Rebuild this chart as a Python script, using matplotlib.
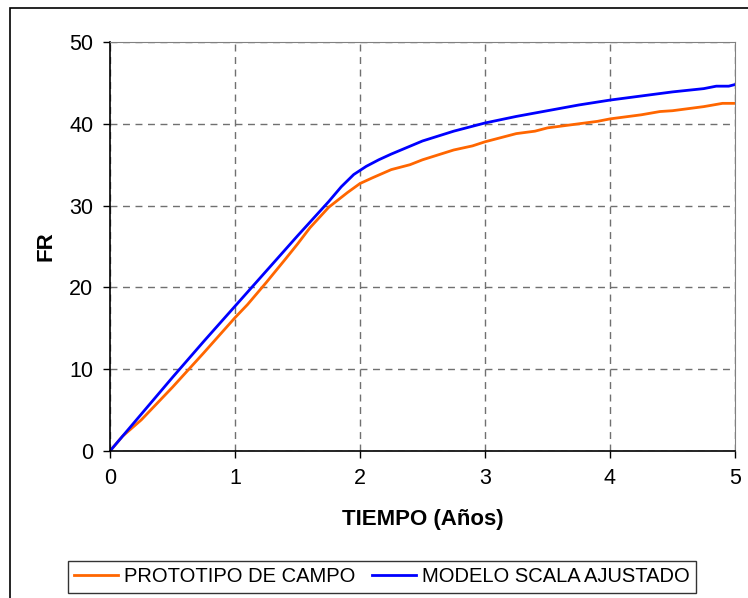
import matplotlib
matplotlib.use('Agg')
import matplotlib.pyplot as plt
from matplotlib.patches import Rectangle

plt.rcParams['font.family'] = ['Liberation Sans', 'DejaVu Sans']

# prototipo de campo
t_campo = [0, 0.1, 0.25, 0.4, 0.5, 0.75, 1.0, 1.1, 1.25, 1.4, 1.5, 1.6, 1.75, 1.9, 2.0, 2.1, 2.25, 2.4, 2.5,
           2.75, 2.9, 3.0, 3.1, 3.25, 3.4, 3.5, 3.75, 3.9, 4.0, 4.25, 4.4, 4.5, 4.75, 4.9, 5.0]
fr_campo = [0, 1.8, 3.8, 6.2, 7.8, 12.0, 16.3, 17.9, 20.6, 23.4, 25.3, 27.3, 29.8, 31.6, 32.7, 33.4, 34.4, 35.0, 35.6,
            36.8, 37.3, 37.8, 38.2, 38.8, 39.1, 39.5, 40.0, 40.3, 40.6, 41.1, 41.5, 41.6, 42.1, 42.5, 42.5]

# modelo scala ajustado
t_modelo = [0, 0.25, 0.5, 0.75, 1.0, 1.25, 1.5, 1.75, 1.85, 1.95, 2.05, 2.15, 2.25, 2.5, 2.75, 3.0,
            3.25, 3.5, 3.75, 4.0, 4.25, 4.5, 4.75, 4.85, 4.95, 5.0]
fr_modelo = [0, 4.5, 9.0, 13.4, 17.7, 22.0, 26.3, 30.5, 32.3, 33.8, 34.8, 35.6, 36.3, 37.9, 39.1, 40.1,
             40.9, 41.6, 42.3, 42.9, 43.4, 43.9, 44.3, 44.6, 44.6, 44.8]

fig = plt.figure(figsize=(7.48, 5.98), dpi=100)
ax = fig.add_axes([110 / 748, 1 - 451 / 598, 625 / 748, 409 / 598])

ax.plot(t_campo, fr_campo, color='#FF6600', lw=2, label='PROTOTIPO DE CAMPO')
ax.plot(t_modelo, fr_modelo, color='#0000FF', lw=2, label='MODELO SCALA AJUSTADO')

ax.set_xlim(0, 5)
ax.set_ylim(0, 50)
ax.set_xticks(range(0, 6))
ax.set_yticks(range(0, 51, 10))
ax.grid(True, color='#707070', linestyle=(0, (5, 4)), linewidth=1)
ax.tick_params(direction='out', length=5, width=1, labelsize=15.5, pad=7)
for s in ['top', 'right']:
    ax.spines[s].set_color('#808080')
ax.spines['left'].set_linewidth(1.2)
ax.spines['bottom'].set_linewidth(1.2)

ax.set_xlabel('TIEMPO (Años)', fontsize=16, fontweight='bold', labelpad=15)
ax.set_ylabel('FR', fontsize=16, fontweight='bold', labelpad=9)

leg = fig.legend(loc='center', bbox_to_anchor=(382 / 748, 1 - 577 / 598), ncol=2, fontsize=14.5,
                 frameon=True, fancybox=False, edgecolor='black', handlelength=2.2,
                 handletextpad=0.3, columnspacing=0.8, borderpad=0.3)
leg.get_frame().set_linewidth(1)

fig.patches.append(Rectangle((10 / 748, -0.01), 1.0, 1 - 8 / 598 + 0.01, transform=fig.transFigure,
                             fill=False, edgecolor='black', linewidth=1.2))

fig.savefig('out.png', dpi=100)
